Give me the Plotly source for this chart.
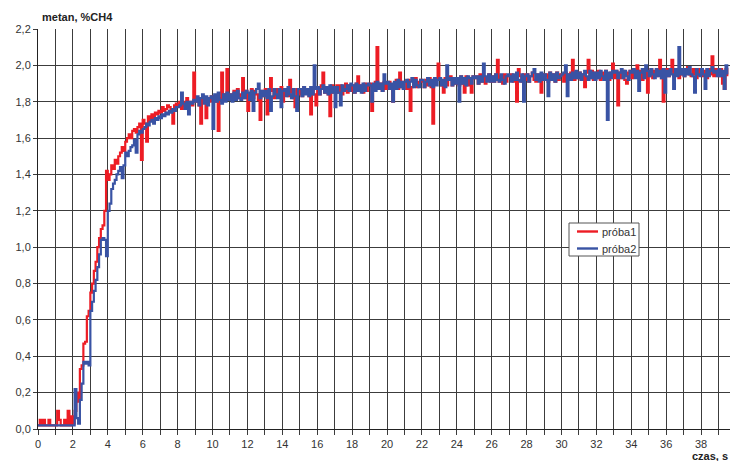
import plotly.graph_objects as go

# Sampling step of the recorded signal, seconds
STEP = 0.1

# Methane concentration, %CH4, one row per second of recording
proba1 = [
    0.02, 0.05, 0.02, 0.05, 0.02, 0.02, 0.05, 0.02, 0.02, 0.02,
    0.02, 0.10, 0.05, 0.02, 0.02, 0.05, 0.02, 0.10, 0.02, 0.07,
    0.03, 0.10, 0.20, 0.15, 0.33, 0.35, 0.47, 0.48, 0.62, 0.65,
    0.75, 0.80, 0.87, 0.92, 1.00, 1.05, 1.10, 1.12, 1.20, 1.42,
    1.37, 1.40, 1.45, 1.43, 1.48, 1.46, 1.50, 1.52, 1.55, 1.53,
    1.58, 1.60, 1.62, 1.60, 1.64, 1.65, 1.63, 1.66, 1.68, 1.48,
    1.70, 1.68, 1.58, 1.72, 1.70, 1.73, 1.71, 1.74, 1.73, 1.75,
    1.74, 1.77, 1.75, 1.76, 1.78, 1.77, 1.76, 1.68, 1.78, 1.79,
    1.78, 1.80, 1.76, 1.80, 1.78, 1.82, 1.79, 1.80, 1.78, 1.96,
    1.80, 1.82, 1.78, 1.68, 1.81, 1.80, 1.71, 1.82, 1.80, 1.83,
    1.81, 1.83, 1.80, 1.64, 1.82, 1.96, 1.84, 1.82, 1.98, 1.83,
    1.84, 1.81, 1.86, 1.83, 1.87, 1.82, 1.84, 1.93, 1.82, 1.86,
    1.75, 1.84, 1.87, 1.82, 1.86, 1.84, 1.81, 1.70, 1.86, 1.83,
    1.87, 1.73, 1.84, 1.93, 1.86, 1.82, 1.87, 1.84, 1.85, 1.88,
    1.80, 1.86, 1.87, 1.83, 1.92, 1.85, 1.82, 1.77, 1.87, 1.84,
    1.87, 1.83, 1.88, 1.85, 1.87, 1.83, 1.73, 1.87, 1.84, 1.78,
    1.88, 1.84, 1.89, 1.96, 1.85, 1.88, 1.84, 1.72, 1.89, 1.85,
    1.88, 1.89, 1.85, 1.89, 1.84, 1.88, 1.90, 1.85, 1.89, 1.86,
    1.89, 1.85, 1.90, 1.94, 1.86, 1.89, 1.85, 1.90, 1.86, 1.89,
    1.90, 1.75, 1.86, 1.91, 2.10, 1.87, 1.90, 1.86, 1.91, 1.87,
    1.90, 1.91, 1.87, 1.80, 1.90, 1.92, 1.87, 1.96, 1.88, 1.91,
    1.91, 1.87, 1.92, 1.75, 1.88, 1.91, 1.93, 1.88, 1.91, 1.92,
    1.91, 1.88, 1.92, 1.89, 1.93, 1.88, 1.68, 1.91, 1.92, 2.01,
    1.92, 1.89, 1.85, 1.93, 1.89, 1.92, 1.94, 1.89, 1.93, 1.90,
    1.93, 1.89, 1.94, 1.90, 1.85, 1.94, 1.89, 1.93, 1.85, 1.94,
    1.93, 1.94, 1.90, 1.95, 1.91, 1.94, 1.90, 1.93, 1.95, 1.91,
    1.94, 1.91, 1.95, 2.03, 1.91, 1.94, 1.90, 1.95, 1.91, 1.94,
    1.94, 1.95, 1.91, 1.94, 1.80, 1.98, 1.94, 1.91, 1.95, 1.92,
    1.95, 1.91, 1.94, 1.96, 1.92, 1.91, 1.95, 1.92, 1.85, 1.95,
    1.94, 1.95, 1.91, 1.96, 1.92, 1.95, 1.91, 1.96, 1.92, 1.95,
    1.95, 1.91, 1.96, 1.92, 1.95, 1.96, 2.03, 1.92, 1.96, 1.93,
    1.96, 1.92, 1.95, 1.88, 1.96, 2.03, 1.93, 1.97, 1.92, 1.96,
    1.93, 1.97, 1.92, 1.96, 1.93, 1.97, 1.94, 1.92, 1.96, 2.01,
    1.93, 1.97, 1.78, 1.96, 1.93, 1.97, 1.92, 1.90, 1.96, 1.97,
    1.93, 1.97, 1.94, 2.00, 1.93, 1.97, 1.92, 1.96, 1.98, 1.85,
    1.94, 1.98, 1.93, 1.97, 1.94, 1.98, 2.03, 1.93, 1.80, 1.97,
    1.98, 1.94, 1.97, 2.03, 1.94, 1.98, 1.95, 1.93, 1.98, 1.95,
    1.94, 1.98, 1.99, 1.95, 1.94, 1.98, 1.95, 1.93, 1.98, 1.95,
    1.98, 1.94, 1.97, 1.93, 1.98, 1.95, 2.05, 1.94, 1.98, 1.95,
    1.94, 1.98, 1.90, 1.87, 1.98, 1.94,
]

proba2 = [
    0.02, 0.02, 0.02, 0.02, 0.02, 0.02, 0.02, 0.02, 0.02, 0.02,
    0.02, 0.02, 0.02, 0.02, 0.02, 0.02, 0.02, 0.02, 0.02, 0.02,
    0.02, 0.22, 0.06, 0.03, 0.16, 0.25, 0.37, 0.36, 0.37, 0.35,
    0.65, 0.70, 0.76, 0.82, 0.89, 0.96, 1.04, 1.05, 1.04, 0.95,
    1.20, 1.24, 1.32, 1.35, 1.37, 1.40, 1.42, 1.44, 1.38, 1.45,
    1.52, 1.50, 1.53, 1.55, 1.56, 1.59, 1.52, 1.62, 1.64, 1.63,
    1.65, 1.66, 1.68, 1.67, 1.69, 1.70, 1.68, 1.71, 1.70, 1.72,
    1.71, 1.73, 1.72, 1.74, 1.73, 1.75, 1.74, 1.76, 1.75, 1.77,
    1.77, 1.78, 1.85, 1.79, 1.76, 1.80, 1.73, 1.80, 1.79, 1.81,
    1.80, 1.83, 1.78, 1.82, 1.84, 1.79, 1.83, 1.78, 1.82, 1.83,
    1.65, 1.84, 1.80, 1.85, 1.81, 1.79, 1.84, 1.80, 1.85, 1.81,
    1.84, 1.80, 1.85, 1.81, 1.86, 1.82, 1.81, 1.85, 1.82, 1.86,
    1.85, 1.81, 1.86, 1.75, 1.85, 1.87, 1.90, 1.82, 1.86, 1.83,
    1.86, 1.82, 1.87, 1.75, 1.83, 1.87, 1.84, 1.82, 1.87, 1.77,
    1.86, 1.87, 1.83, 1.88, 1.84, 1.82, 1.87, 1.83, 1.75, 1.87,
    1.87, 1.83, 1.88, 1.84, 1.87, 1.83, 1.88, 1.84, 2.00, 1.87,
    1.88, 1.84, 1.87, 1.89, 1.85, 1.88, 1.84, 1.89, 1.85, 1.88,
    1.77, 1.88, 1.85, 1.78, 1.89, 1.86, 1.87, 1.89, 1.86, 1.90,
    1.89, 1.85, 1.90, 1.86, 1.89, 1.85, 1.90, 1.86, 1.89, 1.90,
    1.89, 1.80, 1.90, 1.86, 1.91, 1.87, 1.90, 1.86, 1.95, 1.90,
    1.91, 1.87, 1.90, 1.80, 1.91, 1.87, 1.92, 1.88, 1.91, 1.87,
    1.91, 1.92, 1.88, 1.91, 1.93, 1.88, 1.92, 1.89, 1.88, 1.92,
    1.92, 1.88, 1.91, 1.93, 1.89, 1.92, 1.88, 1.93, 1.89, 1.92,
    1.93, 1.89, 1.92, 1.88, 2.00, 1.92, 1.93, 1.89, 1.93, 1.90,
    1.93, 1.80, 1.94, 1.90, 1.93, 1.89, 1.94, 1.93, 1.90, 1.94,
    1.93, 1.94, 1.90, 1.94, 1.91, 2.01, 1.94, 1.91, 1.95, 1.91,
    1.94, 1.91, 1.95, 1.92, 1.91, 1.95, 1.92, 1.90, 1.94, 1.95,
    1.94, 1.91, 1.95, 1.92, 1.96, 1.92, 1.91, 1.95, 1.80, 1.94,
    1.95, 1.91, 1.94, 1.96, 1.98, 1.92, 1.95, 1.91, 1.96, 1.92,
    1.95, 1.92, 1.83, 1.96, 1.92, 1.95, 1.91, 1.96, 1.93, 1.94,
    1.95, 1.96, 2.00, 1.83, 1.95, 1.92, 1.96, 1.93, 1.97, 1.93,
    1.96, 1.92, 1.95, 1.97, 1.94, 1.92, 1.97, 1.93, 1.96, 1.92,
    1.96, 1.93, 1.97, 1.94, 1.92, 1.97, 1.70, 1.96, 1.93, 1.97,
    1.96, 1.97, 1.93, 1.96, 1.98, 1.93, 1.97, 1.94, 1.92, 1.97,
    1.96, 1.98, 1.93, 1.97, 1.86, 1.96, 1.98, 1.93, 2.00, 1.97,
    1.94, 1.98, 1.95, 1.93, 1.98, 1.94, 1.97, 1.93, 1.98, 1.85,
    1.97, 1.94, 1.98, 1.95, 1.87, 1.98, 1.94, 2.10, 1.95, 1.98,
    1.94, 1.98, 1.95, 1.99, 1.95, 1.94, 1.85, 1.98, 1.95, 1.94,
    1.98, 1.95, 1.87, 1.98, 1.94, 1.97, 1.99, 1.96, 1.97, 1.94,
    1.98, 1.94, 1.97, 1.87, 2.00, 1.95,
]

series_names = ["próba1", "próba2"]
series_colors = ["#ED1C24", "#3953A4"]

y_ticks = [0.0, 0.2, 0.4, 0.6, 0.8, 1.0, 1.2, 1.4, 1.6, 1.8, 2.0, 2.2]
x_ticks = list(range(0, 40, 2))

time_s = [round(i * STEP, 1) for i in range(len(proba1))]

GRID = "#3c3c3c"
FONT = "Liberation Sans, Arial, sans-serif"

# Plot area in pixels: x 38..730, y 29..429
PL, PW, PB, PH = 38, 692, 429, 400


def px(xp):
    return (xp - PL) / PW


def py(yp):
    return (PB - yp) / PH


fig = go.Figure()
for name, values, color in zip(series_names, [proba1, proba2], series_colors):
    fig.add_trace(go.Scatter(
        x=time_s, y=values, name=name, mode="lines", showlegend=False,
        line=dict(color=color, width=2.2, shape="hv"),
    ))

# Legend box drawn in paper coordinates
shapes = [dict(type="rect", xref="paper", yref="paper",
               x0=px(569), x1=px(639), y0=py(256), y1=py(223),
               fillcolor="white", line=dict(color="#555555", width=1), layer="above")]
annotations = []
for i, (name, color) in enumerate(zip(series_names, series_colors)):
    yy = 231.5 + i * 17
    shapes.append(dict(type="line", xref="paper", yref="paper",
                       x0=px(577), x1=px(598), y0=py(yy), y1=py(yy),
                       line=dict(color=color, width=2.4), layer="above"))
    annotations.append(dict(text=name, xref="paper", yref="paper",
                            x=px(600), y=py(yy), xanchor="left", yanchor="middle",
                            showarrow=False,
                            font=dict(family=FONT, size=11, color="#333333")))

annotations += [
    dict(text="<b>metan, %CH4</b>", xref="paper", yref="paper",
         x=px(40), y=py(17), xanchor="left", yanchor="middle", showarrow=False,
         font=dict(family=FONT, size=11, color="#222222")),
    dict(text="<b>czas, s</b>", xref="paper", yref="paper",
         x=1.0, y=py(456), xanchor="right", yanchor="middle", showarrow=False,
         font=dict(family=FONT, size=11, color="#222222")),
]

fig.update_layout(
    width=730, height=461,
    margin=dict(l=38, r=0, t=29, b=32),
    paper_bgcolor="white", plot_bgcolor="white",
    separators=", ",
    font=dict(family=FONT, size=11, color="#333333"),
    showlegend=False,
    shapes=shapes,
    annotations=annotations,
    xaxis=dict(
        range=[0, PW / 17.45],
        tickmode="array", tickvals=x_ticks, ticktext=[str(v) for v in x_ticks],
        showgrid=True, gridcolor=GRID, gridwidth=1,
        ticks="outside", ticklen=5, tickcolor=GRID,
        minor=dict(dtick=1, showgrid=True, gridcolor=GRID, gridwidth=1,
                   ticks="outside", ticklen=5, tickcolor=GRID),
        showline=True, linecolor="#222222", linewidth=1,
        zeroline=False,
    ),
    yaxis=dict(
        range=[0, 2.2],
        tickmode="array", tickvals=y_ticks,
        tickformat=".1f",
        showgrid=True, gridcolor=GRID, gridwidth=1,
        ticks="outside", ticklen=4, tickcolor=GRID,
        showline=True, linecolor="#222222", linewidth=1,
        zeroline=False,
    ),
)

fig.write_html("out.html")
